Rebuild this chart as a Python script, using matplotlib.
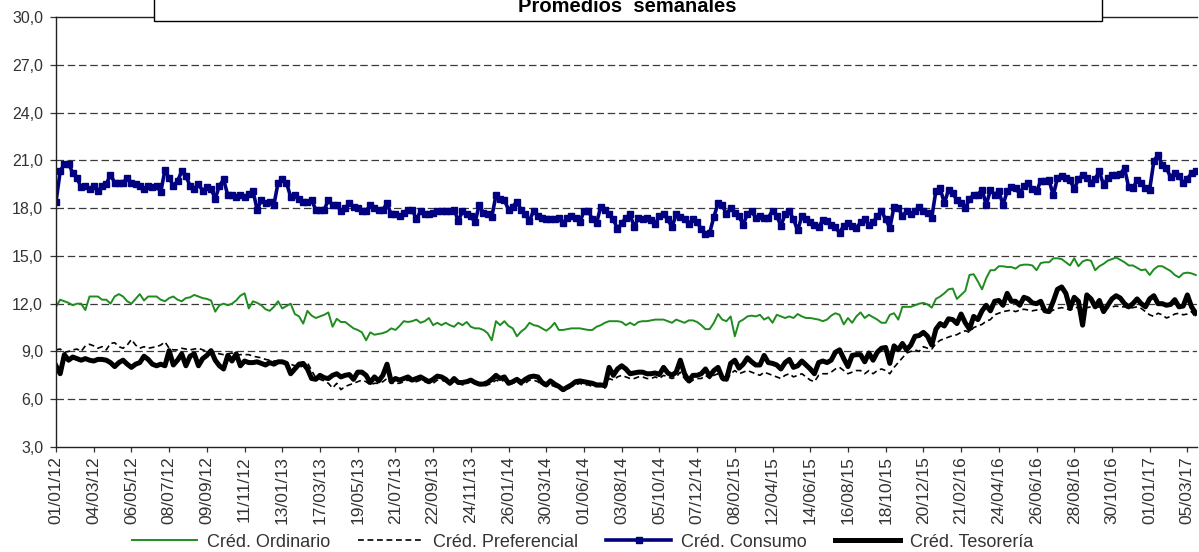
import numpy as np
import matplotlib
matplotlib.use("Agg")
import matplotlib.pyplot as plt
from matplotlib.patches import Rectangle

plt.rcParams["font.family"] = ["Liberation Sans", "DejaVu Sans"]

# Tick labels (one every 9 weeks)
tick_labels = [
    "01/01/12", "04/03/12", "06/05/12", "08/07/12", "09/09/12", "11/11/12",
    "13/01/13", "17/03/13", "19/05/13", "21/07/13", "22/09/13", "24/11/13",
    "26/01/14", "30/03/14", "01/06/14", "03/08/14", "05/10/14", "07/12/14",
    "08/02/15", "12/04/15", "14/06/15", "16/08/15", "18/10/15", "20/12/15",
    "21/02/16", "24/04/16", "26/06/16", "28/08/16", "30/10/16", "01/01/17",
    "05/03/17",
]

# Weekly averages
ordinario = [
    11.8, 12.25, 12.15, 12.05, 11.9, 12.0, 12.0, 11.6, 12.45,
    12.45, 12.45, 12.25, 12.25, 12.0, 12.45, 12.6, 12.45, 12.15,
    12.0, 12.3, 12.6, 12.2, 12.45, 12.45, 12.45, 12.25, 12.15,
    12.35, 12.45, 12.25, 12.15, 12.35, 12.4, 12.55, 12.45, 12.35,
    12.3, 12.2, 11.5, 11.9, 12.0, 11.9, 12.0, 12.2, 12.5,
    12.65, 11.7, 12.15, 12.05, 11.9, 11.65, 11.55, 11.8, 12.15,
    11.7, 11.85, 12.0, 11.35, 11.2, 10.75, 11.55, 11.25, 11.1,
    11.2, 11.3, 11.45, 10.55, 11.05, 10.85, 10.85, 10.65, 10.45,
    10.35, 10.2, 9.7, 10.2, 10.05, 10.1, 10.15, 10.25, 10.45,
    10.35, 10.6, 10.9, 10.85, 10.9, 11.0, 10.8, 10.9, 11.1,
    10.65, 10.8, 10.65, 10.8, 10.65, 10.55, 10.8, 10.65, 10.85,
    10.55, 10.45, 10.45, 10.35, 10.15, 9.7, 10.9, 10.65, 10.9,
    10.6, 10.45, 9.95, 10.25, 10.45, 10.8, 10.65, 10.6, 10.45,
    10.3, 10.5, 10.8, 10.35, 10.35, 10.4, 10.45, 10.45, 10.45,
    10.4, 10.35, 10.35, 10.55, 10.65, 10.8, 10.9, 10.9, 10.9,
    10.85, 10.65, 10.8, 10.65, 10.85, 10.9, 10.9, 10.95, 11.0,
    11.0, 11.0, 10.9, 10.8, 11.0, 10.9, 10.8, 10.95, 10.95,
    10.85, 10.65, 10.4, 10.4, 10.8, 11.35, 11.0, 10.9, 11.2,
    9.95, 10.85, 11.0, 11.2, 11.25, 11.2, 11.3, 11.0, 11.15,
    10.8, 11.3, 11.2, 11.1, 11.2, 11.1, 11.35, 11.2, 11.1,
    11.1, 11.05, 11.0, 10.9, 11.0, 11.25, 11.4, 11.3, 10.7,
    11.1, 10.8, 11.2, 11.45, 11.1, 11.3, 11.15, 11.0, 10.8,
    10.8, 11.3, 11.4, 11.0, 11.8, 11.8, 11.8, 11.9, 12.0,
    12.05, 11.95, 11.75, 12.3, 12.45, 12.65, 12.9, 12.95, 12.3,
    12.55, 12.8, 13.8, 13.85, 13.4, 12.9, 13.6, 14.1, 14.1,
    14.35, 14.35, 14.3, 14.3, 14.2, 14.4, 14.45, 14.45, 14.4,
    14.1, 14.55, 14.6, 14.6, 14.85, 14.85, 14.8, 14.6, 14.4,
    14.85, 14.35, 14.65, 14.75, 14.7, 14.1, 14.35, 14.5, 14.7,
    14.8, 14.9, 14.75, 14.6, 14.4, 14.4, 14.25, 14.1, 14.15,
    13.8, 14.15, 14.35, 14.35, 14.2, 14.05, 13.8, 13.65, 13.9,
    13.95, 13.9, 13.8,
]

preferencial = [
    9.1, 9.15, 8.95, 9.0, 9.1, 9.15, 9.0, 9.35, 9.45,
    9.35, 9.2, 9.3, 9.1, 9.5, 9.55, 9.3, 9.2, 9.4,
    9.75, 9.4, 9.2, 9.3, 9.2, 9.25, 9.3, 9.4, 9.6,
    9.2, 9.1, 9.1, 9.2, 9.15, 9.1, 9.15, 9.2, 9.1,
    9.0, 9.0, 8.9, 8.85, 8.8, 8.85, 8.9, 8.75, 8.8,
    8.8, 8.8, 8.7, 8.65, 8.6, 8.5, 8.45, 8.4, 8.4,
    8.3, 8.3, 8.2, 8.1, 8.0, 8.1, 8.3, 7.8, 7.35,
    7.25, 7.15, 7.0, 6.7, 7.0, 6.6, 6.8, 6.9, 7.0,
    7.1, 7.2, 7.1, 6.9, 7.0, 7.0, 7.1, 7.3, 7.0,
    7.0, 7.0, 7.1, 7.2, 7.1, 7.1, 7.2, 7.1, 7.0,
    7.0, 7.2, 7.2, 7.1, 6.9, 7.1, 7.0, 6.9, 7.0,
    7.1, 7.0, 6.9, 6.8, 6.9, 7.0, 7.2, 7.1, 7.2,
    6.9, 7.0, 7.1, 6.9, 7.0, 7.2, 7.2, 7.1, 6.9,
    6.8, 6.9, 6.8, 6.7, 6.5, 6.6, 6.8, 6.9, 7.0,
    6.9, 6.9, 6.8, 6.8, 6.8, 6.7, 7.3, 7.2, 7.4,
    7.5, 7.4, 7.3, 7.3, 7.4, 7.4, 7.3, 7.3, 7.4,
    7.3, 7.5, 7.4, 7.3, 7.4, 7.7, 7.3, 7.0, 7.2,
    7.3, 7.3, 7.5, 7.3, 7.5, 7.6, 7.2, 7.1, 7.6,
    7.8, 7.6, 7.7, 7.8, 7.7, 7.6, 7.5, 7.7, 7.6,
    7.5, 7.4, 7.3, 7.5, 7.6, 7.4, 7.5, 7.6, 7.4,
    7.2, 7.1, 7.5, 7.6, 7.6, 7.7, 7.9, 8.0, 7.8,
    7.6, 7.7, 7.8, 7.8, 7.6, 7.8, 7.6, 7.8, 7.9,
    7.8, 7.6, 8.0, 8.3, 8.6, 8.9, 9.0, 9.1, 9.0,
    9.3, 9.2, 9.15, 9.5, 9.7, 9.8, 9.9, 10.0, 10.05,
    10.2, 10.3, 10.2, 10.5, 10.6, 10.7, 10.9, 11.0, 11.3,
    11.4, 11.5, 11.55, 11.6, 11.5, 11.6, 11.65, 11.6, 11.55,
    11.6, 11.7, 11.5, 11.45, 11.6, 11.7, 11.75, 11.7, 11.6,
    11.7, 11.8, 11.7, 11.75, 11.8, 11.75, 11.8, 11.7, 11.75,
    11.8, 11.85, 11.8, 11.8, 11.7, 11.75, 11.8, 11.7, 11.5,
    11.3, 11.2, 11.4, 11.3, 11.1, 11.2, 11.35, 11.4, 11.3,
    11.35, 11.5, 11.1,
]

consumo = [
    18.4, 20.3, 20.8, 20.8, 20.2, 19.9, 19.3, 19.4, 19.2,
    19.4, 19.05, 19.4, 19.5, 20.1, 19.6, 19.6, 19.6, 19.9,
    19.6, 19.5, 19.4, 19.2, 19.4, 19.3, 19.4, 19.0, 20.4,
    19.9, 19.4, 19.7, 20.3, 20.0, 19.4, 19.2, 19.5, 19.1,
    19.3, 19.2, 18.6, 19.4, 19.8, 18.8, 18.8, 18.7, 18.8,
    18.7, 18.9, 19.1, 17.9, 18.5, 18.3, 18.4, 18.2, 19.6,
    19.8, 19.6, 18.7, 18.8, 18.6, 18.4, 18.4, 18.5, 17.9,
    17.9, 17.9, 18.5, 18.2, 18.2, 17.8, 18.0, 18.3, 18.1,
    18.0, 17.85, 17.8, 18.2, 18.0, 17.9, 17.9, 18.3, 17.6,
    17.6, 17.5, 17.7, 17.9, 17.9, 17.3, 17.8, 17.6, 17.6,
    17.7, 17.8, 17.8, 17.8, 17.8, 17.9, 17.2, 17.8, 17.6,
    17.5, 17.1, 18.2, 17.7, 17.6, 17.45, 18.8, 18.6, 18.5,
    17.9, 18.1, 18.4, 17.9, 17.6, 17.2, 17.85, 17.5, 17.4,
    17.3, 17.3, 17.3, 17.4, 17.05, 17.4, 17.5, 17.4, 17.1,
    17.8, 17.85, 17.3, 17.05, 18.1, 17.9, 17.6, 17.3, 16.7,
    17.05, 17.4, 17.6, 16.8, 17.4, 17.3, 17.4, 17.25, 17.0,
    17.5, 17.6, 17.3, 16.8, 17.6, 17.45, 17.3, 17.0, 17.3,
    17.1, 16.7, 16.4, 16.45, 17.45, 18.3, 18.2, 17.6, 18.0,
    17.7, 17.5, 16.95, 17.65, 17.8, 17.4, 17.5, 17.4, 17.4,
    17.85, 17.5, 16.9, 17.6, 17.8, 17.3, 16.6, 17.5, 17.3,
    17.1, 16.95, 16.8, 17.25, 17.2, 16.95, 16.8, 16.45, 16.9,
    17.05, 16.85, 16.75, 17.1, 17.3, 16.95, 17.1, 17.5, 17.8,
    17.3, 16.75, 18.1, 18.0, 17.5, 17.8, 17.6, 17.8, 18.1,
    17.85, 17.7, 17.4, 19.1, 19.25, 18.3, 19.15, 18.95, 18.5,
    18.3, 18.0, 18.55, 18.85, 18.85, 19.15, 18.2, 19.15, 18.85,
    19.05, 18.2, 19.05, 19.35, 19.25, 18.9, 19.4, 19.55, 19.2,
    19.05, 19.7, 19.7, 19.75, 18.8, 19.9, 20.0, 19.9, 19.75,
    19.2, 19.8, 20.1, 19.9, 19.6, 19.85, 20.3, 19.45, 19.9,
    20.05, 20.1, 20.15, 20.5, 19.3, 19.25, 19.75, 19.6, 19.25,
    19.15, 20.95, 21.35, 20.7, 20.5, 19.95, 20.2, 20.0, 19.6,
    19.85, 20.2, 20.35,
]

tesoreria = [
    8.1, 7.6, 8.8, 8.45, 8.65, 8.55, 8.45, 8.55, 8.45,
    8.4, 8.5, 8.5, 8.45, 8.3, 8.05, 8.3, 8.45, 8.2,
    8.0, 8.2, 8.3, 8.7, 8.5, 8.2, 8.1, 8.2, 8.1,
    9.05, 8.15, 8.45, 8.85, 8.1, 8.7, 8.85, 8.1, 8.55,
    8.75, 9.05, 8.45, 8.1, 7.9, 8.75, 8.4, 8.85, 8.1,
    8.4, 8.3, 8.3, 8.35, 8.25, 8.15, 8.3, 8.2, 8.35,
    8.35, 8.25, 7.6, 7.9, 8.2, 8.25, 7.9, 7.3, 7.25,
    7.5, 7.35, 7.3, 7.5, 7.6, 7.4, 7.5, 7.55, 7.25,
    7.7, 7.7, 7.5, 7.05, 7.4, 7.15, 7.5, 8.2, 7.1,
    7.3, 7.2, 7.3, 7.4, 7.2, 7.3, 7.4, 7.25, 7.1,
    7.25, 7.45, 7.4, 7.25, 7.0, 7.3, 7.05, 7.05, 7.1,
    7.2, 7.05, 6.95, 6.95, 7.05, 7.25, 7.5, 7.3, 7.4,
    7.0, 7.1, 7.25, 7.05, 7.25, 7.4, 7.45, 7.4, 7.05,
    6.9, 7.15, 6.95, 6.8, 6.6, 6.75, 6.9, 7.1, 7.15,
    7.1, 7.05, 7.0, 6.9, 6.9, 6.85, 8.0, 7.5, 7.9,
    8.1, 7.9, 7.6, 7.65, 7.7, 7.7, 7.6, 7.6, 7.65,
    7.55, 8.0, 7.65, 7.5, 7.7, 8.45, 7.6, 7.15, 7.5,
    7.5, 7.6, 7.9, 7.45, 7.8, 8.0, 7.35, 7.25, 8.25,
    8.45, 7.95, 8.2, 8.6, 8.35, 8.15, 8.15, 8.75, 8.3,
    8.25, 8.15, 7.9, 8.3, 8.5, 8.0, 8.1, 8.4, 8.15,
    7.9, 7.6, 8.3, 8.4, 8.3, 8.45, 8.95, 9.1, 8.55,
    8.05, 8.75, 8.8, 8.8, 8.35, 8.9, 8.45, 8.95, 9.2,
    9.25, 8.25, 9.35, 9.1, 9.5, 9.1, 9.4, 9.95, 10.0,
    10.2, 9.95, 9.4, 10.4, 10.75, 10.6, 11.05, 11.0, 10.75,
    11.35, 10.8, 10.4, 11.2, 11.0, 11.55, 11.9, 11.55, 12.15,
    12.2, 11.9, 12.65, 12.15, 12.15, 11.9, 12.4, 12.3, 12.05,
    12.0, 12.15, 11.55, 11.5, 12.15, 12.9, 13.05, 12.65, 11.7,
    12.4, 12.15, 10.65, 12.55, 12.3, 11.8, 12.2, 11.5, 11.9,
    12.3, 12.5, 12.35, 12.0, 11.8, 12.0, 12.3, 12.0, 11.8,
    12.3, 12.5, 12.0, 12.0, 11.9, 11.95, 12.25, 11.8, 11.85,
    12.55, 11.8, 11.4,
]

y_ticks = [3, 6, 9, 12, 15, 18, 21, 24, 27, 30]

W, H = 1199, 552
TEXT = "#333333"

weeks = np.arange(len(consumo))

fig = plt.figure(figsize=(W / 100, H / 100), dpi=100)
ax = fig.add_axes([56 / W, 1 - 447 / H, (1197 - 56) / W, (447 - 17) / H])

# dashed horizontal gridlines
for v in y_ticks[1:-1]:
    ax.axhline(v, color="#3a3a3a", lw=0.9, ls=(0, (6, 3)), zorder=0.5)

ax.plot(weeks, ordinario, color="#1e8c1e", lw=1.4, label="Créd. Ordinario")
ax.plot(weeks, preferencial, color="black", lw=1.2, ls=(0, (3.5, 2.2)),
        label="Créd. Preferencial")
ax.plot(weeks, consumo, color="#000080", lw=2.6, marker="s", ms=4.4,
        label="Créd. Consumo")
ax.plot(weeks, tesoreria, color="black", lw=3.6, label="Créd. Tesorería")

ax.set_xlim(0, 272.3)
ax.set_ylim(3, 30)
ax.set_yticks(y_ticks)
ax.set_yticklabels([f"{v:.1f}".replace(".", ",") for v in y_ticks])
ax.set_xticks(np.arange(0, 9 * len(tick_labels), 9))
ax.set_xticklabels(tick_labels, rotation=90)

ax.spines["right"].set_visible(False)
for s in ("left", "bottom", "top"):
    ax.spines[s].set_color("#222222")
    ax.spines[s].set_linewidth(1.0)

ax.tick_params(axis="y", direction="out", length=4.3, width=0.9, pad=5,
               labelsize=11.5, colors=TEXT)
ax.tick_params(axis="x", direction="out", length=3.6, width=0.9, pad=3,
               labelsize=12.5, colors=TEXT)

leg = fig.legend(loc="lower center", bbox_to_anchor=(0.486, -0.004), ncol=4,
                 frameon=False, fontsize=13, handlelength=3.6,
                 handletextpad=0.55, columnspacing=1.55, borderaxespad=0.0,
                 borderpad=0.2)
for t in leg.get_texts():
    t.set_color(TEXT)

# title box, partly outside the picture
fig.add_artist(Rectangle((154 / W, 1 - 20.5 / H), (1102 - 154) / W, 0.1,
                         transform=fig.transFigure, facecolor="white",
                         edgecolor="black", lw=1.0, zorder=5, clip_on=False))
fig.text(627 / W, 1 - 12 / H, "Promedios  semanales", ha="center",
         va="baseline", fontsize=14.5, fontweight="bold", zorder=6)

fig.savefig("out.png", dpi=100)
